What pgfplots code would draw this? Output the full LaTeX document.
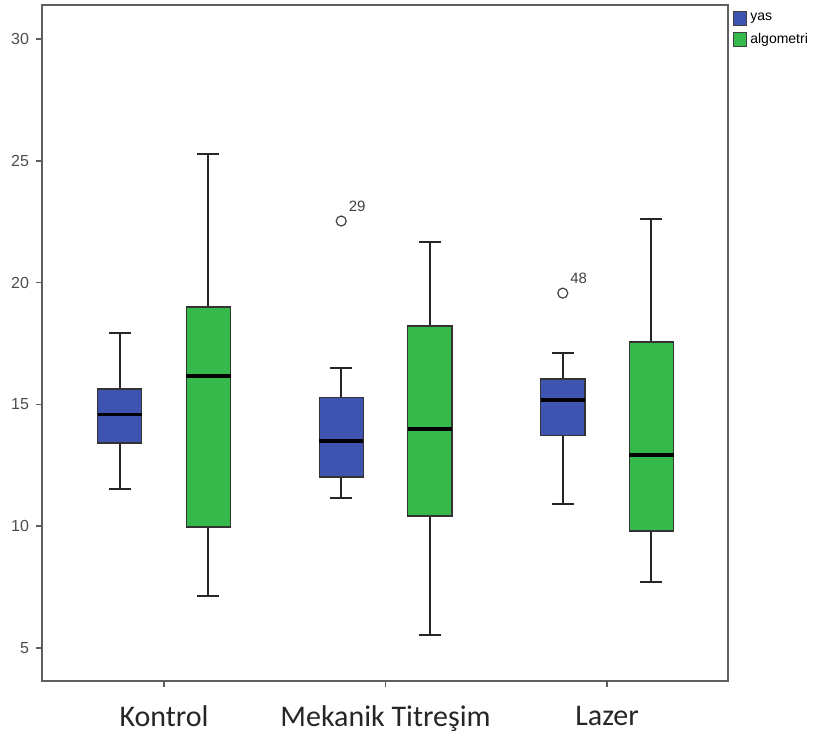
\documentclass[border=0pt]{standalone}
\usepackage{fontspec}
\setmainfont{Liberation Sans}
\newfontfamily\calibri{Carlito}
\usepackage{pgfplots}
\pgfplotsset{compat=1.18}
\definecolor{spssblue}{RGB}{62,84,176}
\definecolor{spssgreen}{RGB}{52,185,74}
\definecolor{framegray}{RGB}{95,95,95}
\pgfplotsset{
  bfill/.style={forget plot, fill=spssblue, draw=black!80, line width=0.6pt, mark=none},
  gfill/.style={forget plot, fill=spssgreen, draw=black!80, line width=0.6pt, mark=none},
  wsk/.style={forget plot, draw=black!85, line width=1pt, mark=none, unbounded coords=jump},
  med/.style={forget plot, draw=black, line width=1.6pt, mark=none},
}
\begin{document}
\begin{tikzpicture}
\useasboundingbox (-21pt,-31pt) rectangle (388.5pt,340.5pt);
\begin{axis}[
  scale only axis, width=343pt, height=338pt,
  xmin=-0.551, xmax=2.546, ymin=3.645, ymax=31.40,
  axis line style={framegray, line width=1pt},
  xtick={0,1,2}, xticklabels={Kontrol, Mekanik Titreşim, Lazer},
  ytick={5,10,15,20,25,30},
  tick align=outside, xtick pos=bottom, ytick pos=left,
  major tick length=3pt,
  tick style={framegray, line width=0.8pt},
  xticklabel style={font=\calibri\fontsize{15}{18}\selectfont, text=black!85, yshift=-6pt},
  yticklabel style={font=\fontsize{8}{9}\selectfont, text=black!70},
  /pgf/number format/assume math mode=true,
  legend style={at={(1.006,0.994)}, anchor=north west, draw=none, fill=none,
    font=\fontsize{7}{8}\selectfont, inner sep=0pt, row sep=0.5pt, cells={anchor=west}},
  legend image code/.code={\draw[#1] (0pt,-3.5pt) rectangle (6.5pt,3.5pt);},
  clip=false,
]
\addlegendimage{fill=spssblue, draw=black!75}
\addlegendentry{yas}
\addlegendimage{fill=spssgreen, draw=black!75}
\addlegendentry{algometri}

% Kontrol - yas
\addplot[wsk] coordinates {(-0.2,15.63) (-0.2,17.93) (-0.2,nan) (-0.25,17.93) (-0.15,17.93) (-0.15,nan) (-0.2,13.42) (-0.2,11.53) (-0.2,nan) (-0.25,11.53) (-0.15,11.53)};
\addplot[bfill] coordinates {(-0.3,13.42) (-0.1,13.42) (-0.1,15.63) (-0.3,15.63)} -- cycle;
\addplot[med] coordinates {(-0.3,14.6) (-0.1,14.6)};
% Kontrol - algometri
\addplot[wsk] coordinates {(0.2,19.0) (0.2,25.28) (0.2,nan) (0.15,25.28) (0.25,25.28) (0.25,nan) (0.2,9.97) (0.2,7.13) (0.2,nan) (0.15,7.13) (0.25,7.13)};
\addplot[gfill] coordinates {(0.1,9.97) (0.3,9.97) (0.3,19.0) (0.1,19.0)} -- cycle;
\addplot[med] coordinates {(0.1,16.17) (0.3,16.17)};
% Mekanik - yas
\addplot[wsk] coordinates {(0.8,15.30) (0.8,16.49) (0.8,nan) (0.75,16.49) (0.85,16.49) (0.85,nan) (0.8,12.02) (0.8,11.16) (0.8,nan) (0.75,11.16) (0.85,11.16)};
\addplot[bfill] coordinates {(0.7,12.02) (0.9,12.02) (0.9,15.30) (0.7,15.30)} -- cycle;
\addplot[med] coordinates {(0.7,13.5) (0.9,13.5)};
% Mekanik - algometri
\addplot[wsk] coordinates {(1.2,18.22) (1.2,21.67) (1.2,nan) (1.15,21.67) (1.25,21.67) (1.25,nan) (1.2,10.42) (1.2,5.53) (1.2,nan) (1.15,5.53) (1.25,5.53)};
\addplot[gfill] coordinates {(1.1,10.42) (1.3,10.42) (1.3,18.22) (1.1,18.22)} -- cycle;
\addplot[med] coordinates {(1.1,13.99) (1.3,13.99)};
% Lazer - yas
\addplot[wsk] coordinates {(1.8,16.04) (1.8,17.11) (1.8,nan) (1.75,17.11) (1.85,17.11) (1.85,nan) (1.8,13.74) (1.8,10.91) (1.8,nan) (1.75,10.91) (1.85,10.91)};
\addplot[bfill] coordinates {(1.7,13.74) (1.9,13.74) (1.9,16.04) (1.7,16.04)} -- cycle;
\addplot[med] coordinates {(1.7,15.18) (1.9,15.18)};
% Lazer - algometri
\addplot[wsk] coordinates {(2.2,17.56) (2.2,22.61) (2.2,nan) (2.15,22.61) (2.25,22.61) (2.25,nan) (2.2,9.80) (2.2,7.71) (2.2,nan) (2.15,7.71) (2.25,7.71)};
\addplot[gfill] coordinates {(2.1,9.80) (2.3,9.80) (2.3,17.56) (2.1,17.56)} -- cycle;
\addplot[med] coordinates {(2.1,12.92) (2.3,12.92)};

% outliers
\addplot[forget plot, only marks, mark=o, mark size=2.5pt, black!75, line width=0.6pt,
  nodes near coords, point meta=explicit symbolic,
  every node near coord/.style={anchor=south west, inner sep=0pt, xshift=3.5pt, yshift=4.5pt,
    font=\fontsize{7.5}{8}\selectfont, text=black!75}]
  coordinates {(0.8,22.53)[29] (1.8,19.57)[48]};
\end{axis}
\end{tikzpicture}
\end{document}
